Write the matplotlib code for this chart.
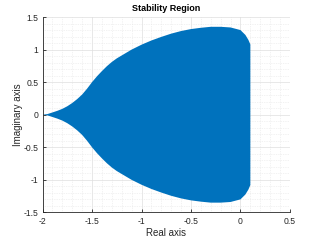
import numpy as np
import matplotlib
matplotlib.use("Agg")
import matplotlib.pyplot as plt
from matplotlib.ticker import MultipleLocator

# Upper half of the stability region boundary (region is symmetric about the real axis)
re_upper = [-2.0, -1.95, -1.9, -1.85, -1.8, -1.75, -1.7, -1.65, -1.6, -1.55, -1.5,
            -1.45, -1.4, -1.35, -1.3, -1.25, -1.2, -1.1, -1.0, -0.9, -0.8, -0.7,
            -0.6, -0.5, -0.4, -0.3, -0.2, -0.1, 0.0, 0.05, 0.08, 0.1]
im_upper = [0.0, 0.01, 0.035, 0.06, 0.09, 0.13, 0.18, 0.24, 0.31, 0.40, 0.50,
            0.59, 0.67, 0.745, 0.81, 0.865, 0.91, 1.0, 1.075, 1.14, 1.195, 1.245,
            1.285, 1.315, 1.335, 1.35, 1.35, 1.34, 1.30, 1.225, 1.15, 1.08]

title = "Stability Region"
xlabel = "Real axis"
ylabel = "Imaginary axis"
xticks = [-2, -1.5, -1, -0.5, 0, 0.5]
yticks = [-1.5, -1, -0.5, 0, 0.5, 1, 1.5]

plt.rcParams['font.family'] = ['Liberation Sans', 'DejaVu Sans']

fig = plt.figure(figsize=(3.2, 2.4), dpi=100)
ax = fig.add_axes([0.133, 0.115, 0.773, 0.814])

re_u = np.array(re_upper)
im_u = np.array(im_upper)
xs = np.concatenate([re_u, re_u[::-1]])
ys = np.concatenate([im_u, -im_u[::-1]])
ax.fill(xs, ys, color='#0072BD', lw=0, zorder=2)

ax.set_xlim(-2, 0.5)
ax.set_ylim(-1.5, 1.5)
ax.set_xticks(xticks)
ax.set_xticklabels([f"{t:g}" for t in xticks])
ax.set_yticks(yticks)
ax.set_yticklabels([f"{t:g}" for t in yticks])
ax.xaxis.set_minor_locator(MultipleLocator(0.1))
ax.yaxis.set_minor_locator(MultipleLocator(0.1))

ax.set_axisbelow(True)
ax.grid(True, which='major', color='#dedede', lw=0.5, ls='-')
ax.grid(True, which='minor', color='#e6e6e6', lw=0.5, ls=(0, (1, 1.5)))

for s in ['top', 'right']:
    ax.spines[s].set_visible(False)
for s in ['left', 'bottom']:
    ax.spines[s].set_color('#262626')
    ax.spines[s].set_linewidth(0.6)

ax.tick_params(which='major', direction='in', length=2.5, width=0.6,
               colors='#262626', labelsize=6.2, pad=3)
ax.tick_params(which='minor', length=0)

ax.set_title(title, fontsize=6.5, fontweight='bold', pad=4)
ax.set_xlabel(xlabel, fontsize=7, color='#262626', labelpad=2)
ax.set_ylabel(ylabel, fontsize=7, color='#262626', labelpad=0.5)

fig.savefig("out.png", dpi=100)
